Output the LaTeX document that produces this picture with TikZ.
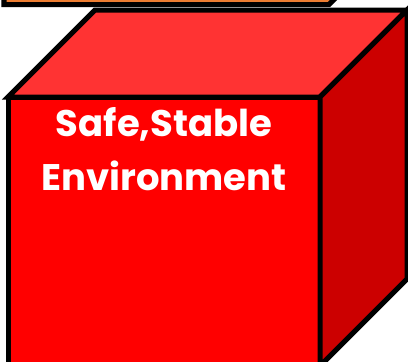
\documentclass[tikz,border=0pt]{standalone}
\usepackage{fontspec}
\setmainfont{Poppins}
\definecolor{cubefront}{RGB}{255,0,0}
\definecolor{cubetop}{RGB}{255,51,51}
\definecolor{cubeside}{RGB}{204,0,0}
\definecolor{lidorange}{RGB}{237,125,49}

\begin{document}
\begin{tikzpicture}[x=1pt, y=-1pt, face/.style={draw=black, line width=5pt, line join=miter}]
    \useasboundingbox (0,0) rectangle (408,362);
    \clip (0,0) rectangle (408,362);

    % box sitting above, cut off by the frame
    \filldraw[face, fill=lidorange] (4,-100) -- (4,4.5) -- (329,4.5) -- (430,-97) -- cycle;

    % the cube
    \filldraw[face, fill=cubefront] (8,97) rectangle (320,366);
    \filldraw[face, fill=cubetop] (8,97) -- (95,10) -- (407,10) -- (320,97) -- cycle;
    \filldraw[face, fill=cubeside] (320,97) -- (407,10) -- (407,279) -- (320,366) -- cycle;

    \node[text=white, font=\bfseries\fontsize{37}{54}\selectfont, align=center] (label) at (164,149) {Safe,Stable\\Environment};
\end{tikzpicture}
\end{document}
